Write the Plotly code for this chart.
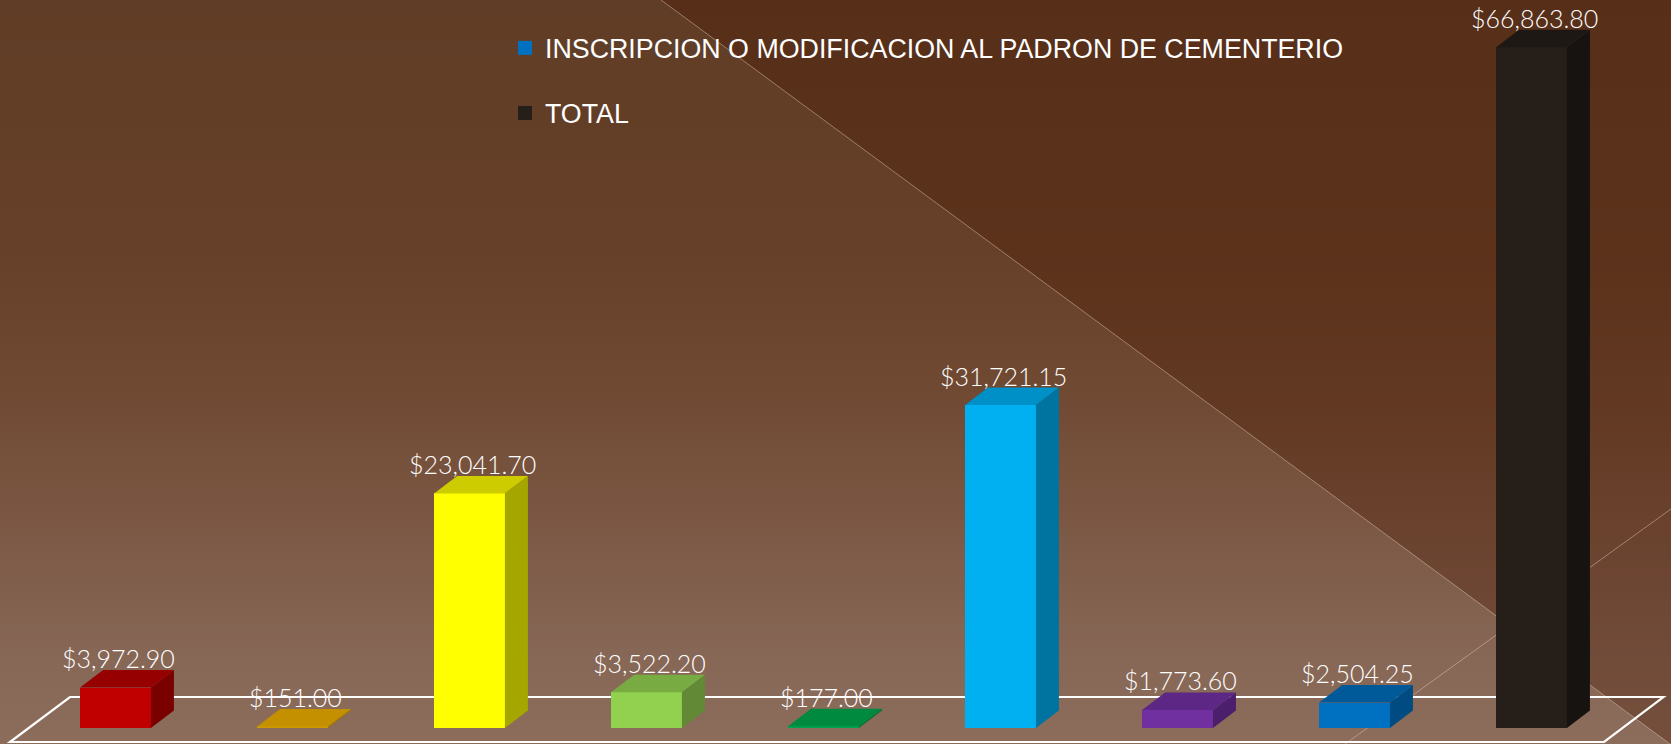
import plotly.graph_objects as go

# ---------------- data ----------------
values = [3972.90, 151.00, 23041.70, 3522.20, 177.00, 31721.15, 1773.60, 2504.25, 66863.80]
labels = ["$3,972.90", "$151.00", "$23,041.70", "$3,522.20", "$177.00",
          "$31,721.15", "$1,773.60", "$2,504.25", "$66,863.80"]
front_colors = ["#c00000", "#cc9900", "#ffff00", "#92d050", "#00a050",
                "#00b0f0", "#7030a0", "#0070c0", "#261e19"]
top_colors = ["#960000", "#c49000", "#cccc00", "#78ab42", "#008a40",
              "#0090c8", "#5c2785", "#005a9a", "#1e1814"]
side_colors = ["#7a0000", "#a07800", "#a6a600", "#628a36", "#007034",
               "#0074a0", "#4b1f6c", "#004c82", "#171310"]
legend_names = ["INSCRIPCION O MODIFICACION AL PADRON DE CEMENTERIO", "TOTAL"]
legend_colors = ["#0070c0", "#261e19"]

positions = list(range(len(values)))
W = 0.40          # bar width (x units)
DX = 0.13         # depth offset x
DY = 1720.0       # depth offset y (value units)

fig = go.Figure()

# ---------------- background ----------------
stops = [(0, (96, 61, 38)), (250, (103, 64, 41)), (400, (112, 74, 51)),
         (550, (126, 91, 72)), (650, (134, 102, 85)), (744, (140, 108, 90))]

def col_at(y):
    for (y0, c0), (y1, c1) in zip(stops[:-1], stops[1:]):
        if y0 <= y <= y1:
            t = (y - y0) / (y1 - y0)
            return "rgb(%d,%d,%d)" % tuple(round(a + (b - a) * t) for a, b in zip(c0, c1))
    return "rgb(%d,%d,%d)" % stops[-1][1]

shapes = []
H = 744
band = 8
for y in range(0, H, band):
    shapes.append(dict(type="rect", xref="paper", yref="paper", layer="below",
                       x0=0, x1=1, y0=1 - (y + band + 1) / H, y1=1 - y / H,
                       fillcolor=col_at(y + band / 2), line=dict(width=0)))
# dark triangle upper right
shapes.append(dict(type="path", xref="paper", yref="paper", layer="below",
                   path="M 0.3956,1 L 1,1 L 1,-0.001 Z",
                   fillcolor="rgba(70,20,0,0.33)", line=dict(width=0)))
shapes.append(dict(type="line", xref="paper", yref="paper", layer="below",
                   x0=0.3956, y0=1, x1=1, y1=-0.001,
                   line=dict(color="rgba(230,210,195,0.45)", width=1)))
shapes.append(dict(type="line", xref="paper", yref="paper", layer="below",
                   x0=0.805, y0=0, x1=1, y1=0.3159,
                   line=dict(color="rgba(230,210,195,0.45)", width=1)))

# ---------------- floor (chart floor outline, beneath the bars) ----------------
floor_x = [-0.596, 8.41, 8.745, -0.257]
floor_y = [-1375, -1375, 3044, 3044]
floor_path = "M " + " L ".join("%g,%g" % (a, b) for a, b in zip(floor_x, floor_y)) + " Z"
shapes.append(dict(type="path", xref="x", yref="y", layer="below", path=floor_path,
                   fillcolor="rgba(0,0,0,0)", line=dict(color="white", width=2.2)))

# ---------------- 3D bars ----------------
for p, v, tc, sc in zip(positions, values, top_colors, side_colors):
    x0, x1 = p - W / 2, p + W / 2
    # side face
    fig.add_trace(go.Scatter(x=[x1, x1 + DX, x1 + DX, x1, x1],
                             y=[0, DY, v + DY, v, 0],
                             mode="lines", fill="toself", fillcolor=sc,
                             line=dict(width=0, color=sc), hoverinfo="skip", showlegend=False))
    # top face
    fig.add_trace(go.Scatter(x=[x0, x1, x1 + DX, x0 + DX, x0],
                             y=[v, v, v + DY, v + DY, v],
                             mode="lines", fill="toself", fillcolor=tc,
                             line=dict(width=0, color=tc), hoverinfo="skip", showlegend=False))

fig.add_trace(go.Bar(x=positions, y=values, width=W, marker=dict(color=front_colors, line=dict(width=0)),
                     showlegend=False, hoverinfo="skip"))

# ---------------- legend ----------------
fig.add_trace(go.Scatter(x=[None], y=[None], mode="markers", name=legend_names[0],
                         marker=dict(symbol="square", size=14, color=legend_colors[0]),
                         legend="legend"))
fig.add_trace(go.Scatter(x=[None], y=[None], mode="markers", name=legend_names[1],
                         marker=dict(symbol="square", size=14, color=legend_colors[1]),
                         legend="legend2"))

# ---------------- value labels ----------------
annotations = []
for p, v, t in zip(positions, values, labels):
    annotations.append(dict(x=p + DX * 0.15, y=v + DY, text=t, showarrow=False,
                            xanchor="center", yanchor="bottom", yshift=-5,
                            font=dict(family="Lato, sans-serif", size=25, color="white", weight=300)))

legend_font = dict(family="Liberation Sans, Arial, sans-serif", size=26.8, color="white")
fig.update_layout(
    width=1671, height=744,
    margin=dict(l=0, r=0, t=0, b=0),
    paper_bgcolor="#704a33", plot_bgcolor="rgba(0,0,0,0)",
    xaxis=dict(range=[-0.6525, 8.788], visible=False, fixedrange=True),
    yaxis=dict(range=[-1571, 71500], visible=False, fixedrange=True),
    shapes=shapes, annotations=annotations,
    legend=dict(x=0.3022, y=1 - 48 / 744, xanchor="left", yanchor="middle",
                bgcolor="rgba(0,0,0,0)", font=legend_font),
    legend2=dict(x=0.3022, y=1 - 113 / 744, xanchor="left", yanchor="middle",
                 bgcolor="rgba(0,0,0,0)", font=legend_font),
    bargap=0,
)

fig.write_html("out.html", config={"displayModeBar": False},
               post_script="document.body.style.margin='0';")
